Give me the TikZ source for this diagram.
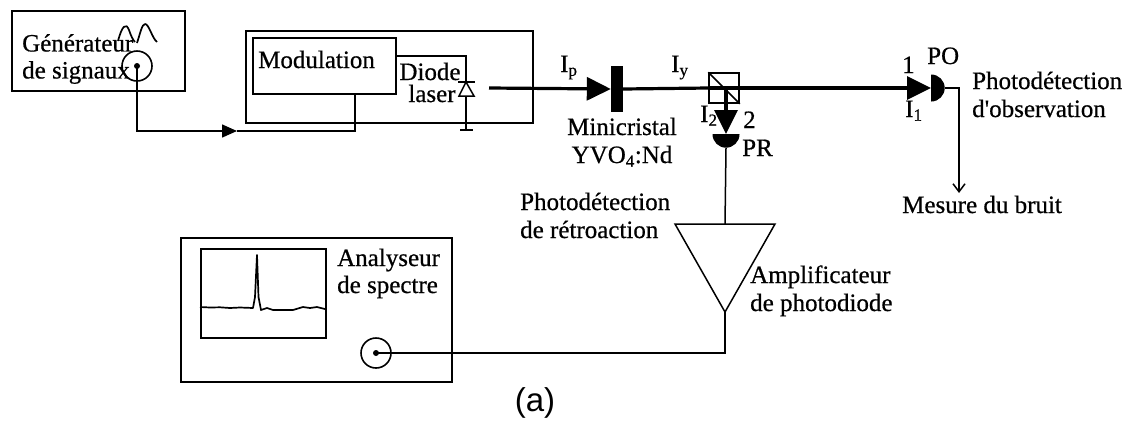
\documentclass[tikz,border=0pt]{standalone}
\usepackage{fontspec}
\setmainfont{Liberation Serif}
\newfontfamily\scanfont[FakeBold=0.6]{Liberation Serif}
\newfontfamily\legendefont{Liberation Sans}
\usetikzlibrary{positioning, arrows.meta, shapes.geometric}
\newcommand{\indice}[1]{\textsubscript{\fontsize{17}{17}\selectfont #1}}

\begin{document}
\begin{tikzpicture}[x=1pt, y=-1pt,
      kasten/.style={draw=black, line width=1.6pt, anchor=north west, inner sep=0pt},
      douille/.style={draw=black, circle, line width=1.6pt, minimum size=30pt, inner sep=0pt},
      plot/.style={circle, fill=black, minimum size=6pt, inner sep=0pt},
      detecteur/.style={semicircle, fill=black, inner sep=0pt, minimum size=13.5pt},
      fil/.style={draw=black, line width=1.5pt},
      faisceau/.style={black, line width=3.2pt},
      fleche/.style={-{Triangle[length=24pt, width=23pt]}},
      texte/.style={font=\scanfont\fontsize{25}{27}\selectfont, inner sep=0pt, align=left},
      courbe/.style={line width=1.7pt, line join=round}]
    \useasboundingbox (0,0) rectangle (1131,424);
    % generateur
    \node[kasten, minimum width=173pt, minimum height=80pt] (gen) at (11,10) {};
    \node[texte, anchor=west] (gentxt) at (22,59) {Générateur\\de signaux};
    \node[douille] (gensig) at (137,66) {};
    \node[plot] (gendot) at (gensig.center) {};
    \draw[courbe] (118,41) .. controls (122,26) and (126,22) .. (129,30) .. controls (131,36) and (133,40) .. (135,42);
    \draw[courbe] (137,43) .. controls (140,34) and (142,24) .. (145,24) .. controls (149,24) and (152,38) .. (157,42);
    % laser
    \node[kasten, minimum width=287pt, minimum height=92pt] (bloc) at (245,30) {};
    \node[kasten, minimum width=143pt, minimum height=56pt] (mod) at (252,37) {};
    \node[texte, anchor=base west] (modtxt) at (258,68) {Modulation};
    \node[texte, anchor=base, align=center] (diodetxt) at (430,102) {Diode\\[-5pt]\hspace*{4pt}laser};
    \coordinate (modsort) at (395,56);
    \coordinate (coude) at (466,56);
    \coordinate (diodeh) at (466,82);
    \coordinate (diodeb) at (466,96);
    \coordinate (masse) at (466,130);
    \coordinate (modentree) at (355,93);
    \coordinate (fleche1) at (237,131);
    \draw[fil] (modsort) -- (coude) -- (diodeh);
    \draw[fil] (diodeb) -- (masse);
    \draw[fil] (458,82) -- (475,82);
    \draw[fil] (diodeh) -- (459,96) -- (474,96) -- cycle;
    \draw[fil] (460,130) -- (473,130);
    \draw[fil, -{Triangle[length=15pt, width=13pt]}] (gensig.center) |- (fleche1);
    \draw[fil] (fleche1) -| (modentree);
    % faisceau
    \coordinate (laser) at (489,88);
    \node[fill=black, minimum width=12pt, minimum height=46pt, inner sep=0pt] (cristal) at (617,89) {};
    \node[draw=black, line width=1.5pt, minimum size=30pt, inner sep=0pt] (cube) at (724,88) {};
    \draw[fil] (cube.north west) -- (cube.south east);
    \node[detecteur, shape border rotate=270, anchor=chord center] (po) at (931,88) {};
    \node[detecteur, shape border rotate=180, anchor=chord center] (pr) at (726,134) {};
    \draw[faisceau, fleche] (laser) -- (cristal.west);
    \draw[faisceau] (cristal.east) -- (cube.west);
    \draw[faisceau, fleche] (cube.east) -- (po.chord center);
    \draw[faisceau] (cube.west) -- (cube.east);
    \draw[faisceau, fleche] (cube.center -| pr.chord center) -- (pr.chord center);
    \node[texte, anchor=base west] (ip) at (560,72) {I\indice{p}};
    \node[texte, anchor=base west] (iy) at (671,72) {I\indice{y}};
    \node[texte, anchor=base west] (i2) at (700,122) {I\indice{2}};
    \node[texte, anchor=base west] (num2) at (743,128) {2};
    \node[texte, anchor=base west] (prtxt) at (742,156) {PR};
    \node[texte, anchor=base, align=center] (cristxt) at (622,163) {Minicristal\\[1pt]YVO\indice{4}:Nd};
    \node[texte, anchor=base west] (num1) at (902,73) {1};
    \node[texte, anchor=base west] (i1) at (905,117) {I\indice{1}};
    \node[texte, anchor=base west] (potxt) at (927,64) {PO};
    \node[texte, anchor=base west] (obstxt) at (972,117) {Photodétection\\[1pt]d'observation};
    % mesure
    \coordinate (pocoude) at (959,88);
    \coordinate (bruit) at (959,193);
    \draw[fil, -{Straight Barb[length=8pt, width=12pt]}] (po.apex) -- (pocoude) -- (bruit);
    \node[texte, anchor=base west] (bruittxt) at (902,213) {Mesure du bruit};
    % amplificateur
    \coordinate (ampg) at (675,224);
    \coordinate (ampd) at (775,224);
    \coordinate (ampb) at (725,312);
    \coordinate (ampin) at (725,224);
    \coordinate (ampcoude) at (725,353);
    \draw[fil, line join=miter] (ampg) -- (ampd) -- (ampb) -- cycle;
    \draw[fil] (pr.apex) -- (ampin);
    \node[texte, anchor=base west] (rettxt) at (520,238) {Photodétection\\[1pt]de rétroaction};
    \node[texte, anchor=base west] (amptxt) at (750,311) {Amplificateur\\[1pt]de photodiode};
    % analyseur
    \node[kasten, minimum width=271pt, minimum height=144pt] (ana) at (180,237) {};
    \node[kasten, minimum width=125pt, minimum height=89pt] (ecran) at (200,248) {};
    \draw[courbe] (200,307) -- (210,307.5) -- (220,307.3) -- (230,308) -- (240,307.5) -- (253,308) -- (255,297) -- (257,255) -- (258.5,297) -- (261,310) -- (267,308) -- (273,310) -- (293,310) -- (303,307) -- (310,308) -- (317,307) -- (325,309);
    \node[texte, anchor=base west] (anatxt) at (337,293) {Analyseur\\de spectre};
    \node[douille] (anasig) at (376,353) {};
    \node[plot] (anadot) at (anasig.center) {};
    \draw[fil] (ampb) -- (ampcoude) -- (anasig.center);
    \node[anchor=base, inner sep=0pt, font=\legendefont\fontsize{33}{35}\selectfont] (legende) at (535,411) {(a)};
  \end{tikzpicture}
\end{document}
